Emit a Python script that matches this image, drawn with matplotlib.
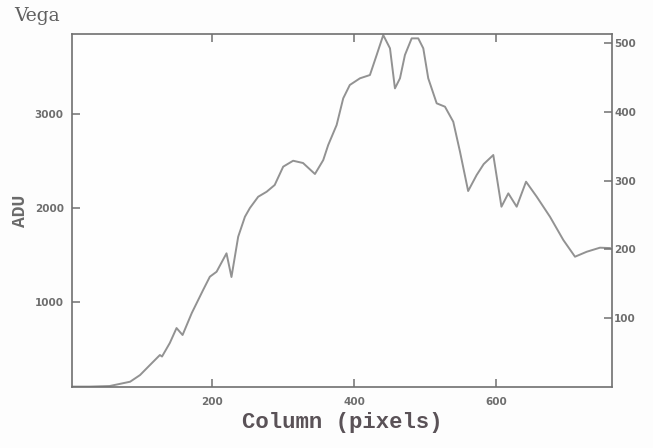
import numpy as np
import matplotlib
matplotlib.use("Agg")
import matplotlib.pyplot as plt

# Vega spectrum profile along the detector rows
column = [2, 27, 55, 84, 98, 112, 126, 129, 140, 149.5, 158, 171, 187, 196.5,
          206, 220, 227, 236.5, 246, 253, 264.7, 276.6, 288, 300, 314, 328,
          344.8, 356.5, 363.5, 375.4, 384.7, 394, 408.3, 422.4, 431.9, 441.2,
          450.7, 457.7, 464.8, 471.8, 481.3, 490.6, 497.7, 504.7, 516.6, 528.3,
          540, 549.5, 561, 573, 583, 596.5, 608, 617.7, 629.5, 642.7, 657.8,
          676.5, 695.3, 711.8, 728.4, 747, 761]
adu = [100, 100, 106, 152, 223, 330, 436, 420, 564, 723, 649, 883, 1128, 1269,
       1322, 1518, 1266, 1695, 1907, 2000, 2120, 2173, 2245, 2440, 2503, 2479,
       2362, 2510, 2670, 2883, 3167, 3309, 3380, 3415, 3628, 3840,
       3699, 3273, 3380, 3628, 3805, 3805, 3699, 3380, 3114, 3078,
       2918, 2599, 2181, 2351, 2468, 2564, 2014, 2156, 2014, 2280, 2120,
       1907, 1660, 1482, 1535, 1578, 1574]

x_ticks = [200, 400, 600]
left_ticks = [1000, 2000, 3000]
right_ticks = [100, 200, 300, 400, 500]

grey = "#707070"
label_col = "#5a5257"

fig = plt.figure(figsize=(6.53, 4.48), dpi=100)
fig.patch.set_facecolor("#fdfdfd")
ax = fig.add_axes([0.1103, 0.1362, 0.8269, 0.7878])
ax.set_facecolor("#fefefe")

ax.plot(column, adu, color="#929292", lw=1.4, solid_joinstyle="round")

ax.set_xlim(2, 764)
ax.set_ylim(96, 3851)
ax.set_xticks(x_ticks)
ax.set_yticks(left_ticks)
ax.tick_params(axis="both", direction="in", length=6, width=1.1, color=grey,
               labelcolor="#6e6e6e", labelsize=7.5, top=True)
ax.tick_params(axis="x", pad=7)
ax.tick_params(axis="y", pad=6)
for lab in ax.get_xticklabels() + ax.get_yticklabels():
    lab.set_fontweight("bold")
for sp in ax.spines.values():
    sp.set_color(grey)
    sp.set_linewidth(1.2)

ax2 = ax.twinx()
ax2.set_ylim(0, 513)
ax2.set_yticks(right_ticks)
ax2.tick_params(axis="y", direction="in", length=6, width=1.1, color=grey,
                labelcolor="#6e6e6e", labelsize=7.5, pad=1.5)
for lab in ax2.get_yticklabels():
    lab.set_fontweight("bold")
for sp in ax2.spines.values():
    sp.set_visible(False)

ax.set_xlabel("Column (pixels)", family="Liberation Mono", fontsize=16,
              fontweight="bold", color=label_col, labelpad=4)
ax.set_ylabel("ADU", family="Liberation Mono", fontsize=13,
              fontweight="bold", color="#6a6a6a", labelpad=4)

fig.text(0.021, 0.945, "Vega", family="DejaVu Serif", fontsize=13.5,
         color="#606060", va="bottom", ha="left")

fig.savefig("out.png", dpi=100, facecolor=fig.get_facecolor())
